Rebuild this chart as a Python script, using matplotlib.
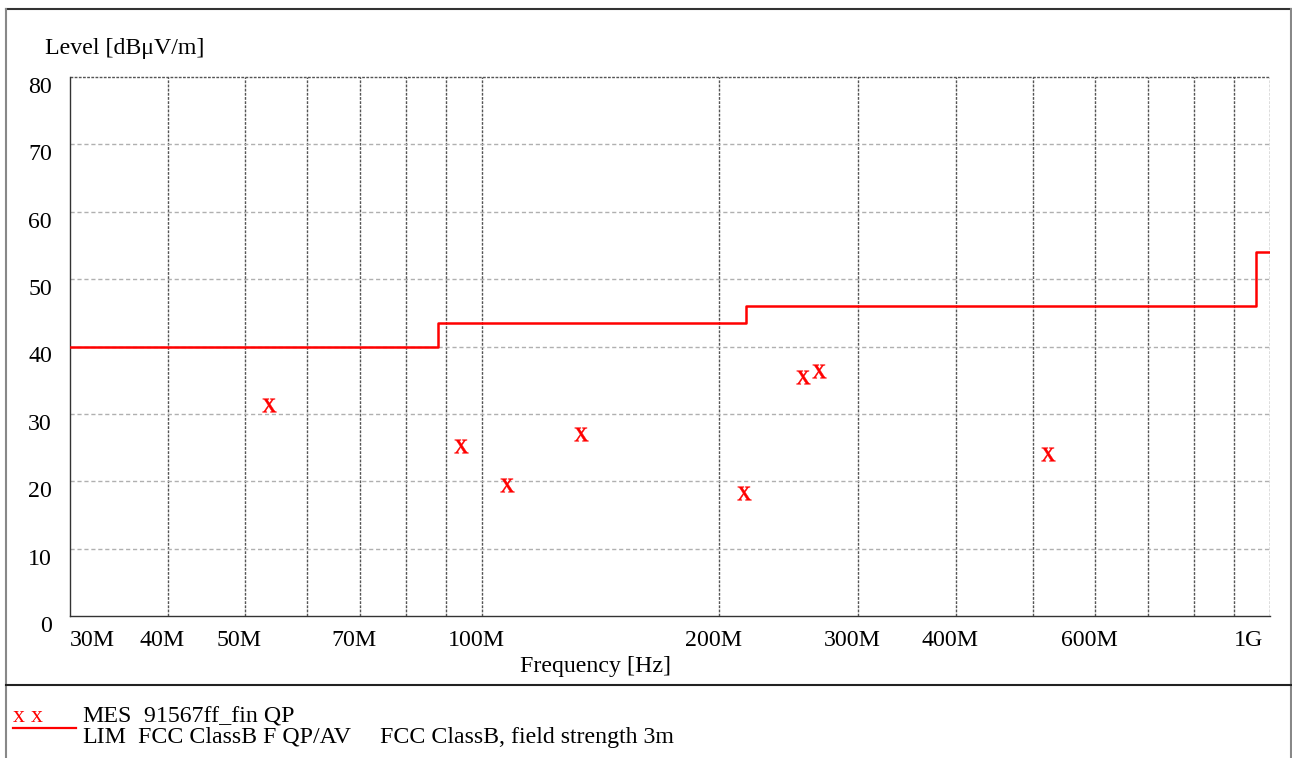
import numpy as np
import matplotlib.pyplot as plt
from matplotlib.lines import Line2D
from matplotlib.transforms import ScaledTranslation

plt.rcParams['font.family'] = ['Liberation Serif', 'DejaVu Serif']
plt.rcParams['mathtext.fontset'] = 'stix'

W, H = 1292, 758
fs = 17.2

# limite FCC clase B (escalones)
lim_freq = [30e6, 88e6, 216e6, 960e6, 1000e6]
lim_level = [40, 43.5, 46, 54, 54]

# medidas QP
mes_freq = [53.7e6, 94.1e6, 107.5e6, 133.6e6, 215.2e6, 255.3e6, 267.6e6, 523e6]
mes_level = [31.3, 25.3, 19.4, 27.0, 18.2, 35.5, 36.4, 24.1]

xtick_pos = [30e6, 40e6, 50e6, 70e6, 100e6, 200e6, 300e6, 400e6, 600e6, 1e9]
xtick_lab = ['30M', '40M', '50M', '70M', '100M', '200M', '300M', '400M', '600M', '1G']
grid_freq = [40e6, 50e6, 60e6, 70e6, 80e6, 90e6, 100e6, 200e6, 300e6,
             400e6, 500e6, 600e6, 700e6, 800e6, 900e6, 1e9]
ytick = [0, 10, 20, 30, 40, 50, 60, 70, 80]


def px(x, y):
    return x / W, 1 - y / H


fig = plt.figure(figsize=(W / 100, H / 100), dpi=100)
ax = fig.add_axes([70 / W, 1 - 616 / H, 1200 / W, 539 / H])
ax.set_xscale('log')
ax.set_xlim(30e6, 1e9)
ax.set_ylim(0, 80)

# rejilla
for f in grid_freq:
    ax.axvline(f, color='#555555', lw=1.0, ls=(0, (2, 1)), zorder=1)
for yv in ytick[1:-1]:
    ax.axhline(yv, color='#b0b0b0', lw=1.0, ls=(0, (3, 2)), zorder=1)
ax.axhline(ytick[-1], color='#555555', lw=1.0, ls=(0, (2, 1)), zorder=1, clip_on=False)

ax.plot(lim_freq, lim_level, drawstyle='steps-post', color='red', lw=1.8, zorder=3)
ax.plot(mes_freq, mes_level, ls='none', marker=r'$\mathrm{x}$', ms=10,
        color='red', mew=0.3, zorder=4)

ax.spines['top'].set_visible(False)
ax.spines['right'].set_visible(False)
ax.spines['left'].set_color('#333333')
ax.spines['bottom'].set_color('#333333')
for s in ax.spines.values():
    s.set_linewidth(1.0)

ax.set_xticks(xtick_pos, xtick_lab)
ax.set_xticks([], minor=True)
ax.set_yticks(ytick, [str(v) for v in ytick])
ax.tick_params(axis='x', length=0, pad=10, labelsize=fs)
ax.tick_params(axis='y', length=0, pad=13, labelsize=fs)
ax.tick_params(which='minor', length=0)

labs = ax.get_xticklabels()
for i, lab in enumerate(labs):
    if i == 0:
        lab.set_ha('left')
    elif i == len(labs) - 1:
        lab.set_ha('right')
        lab.set_transform(lab.get_transform() + ScaledTranslation(-7 / 100, 0, fig.dpi_scale_trans))
    else:
        lab.set_transform(lab.get_transform() + ScaledTranslation(-6 / 100, 0, fig.dpi_scale_trans))
for lab in ax.get_yticklabels():
    lab.set_va('top')

fig.text(*px(45, 54), 'Level [dBμV/m]', fontsize=fs, va='baseline')
fig.text(*px(595, 672), 'Frequency [Hz]', fontsize=fs, ha='center', va='baseline')

# leyenda
fig.text(*px(13, 722), 'x x', fontsize=fs, color='red', va='baseline')
fig.add_artist(Line2D([13 / W, 76 / W], [1 - 728 / H, 1 - 728 / H], color='red', lw=1.6))
fig.text(*px(82, 722), 'MES', fontsize=fs, va='baseline')
fig.text(*px(144, 722), '91567ff_fin QP', fontsize=fs, va='baseline')
fig.text(*px(82, 743), 'LIM', fontsize=fs, va='baseline')
fig.text(*px(138, 743), 'FCC ClassB F QP/AV', fontsize=fs, va='baseline')
fig.text(*px(380, 743), 'FCC ClassB, field strength 3m', fontsize=fs, va='baseline')

# marco
fig.add_artist(Line2D([6 / W, 1290.5 / W], [1 - 9 / H, 1 - 9 / H], color='#333333', lw=1.5))
fig.add_artist(Line2D([6 / W, 6 / W], [0, 1 - 9 / H], color='#888888', lw=1.5))
fig.add_artist(Line2D([1290.5 / W, 1290.5 / W], [0, 1 - 9 / H], color='#888888', lw=1.5))
fig.add_artist(Line2D([6 / W, 1290.5 / W], [1 - 685 / H, 1 - 685 / H], color='#222222', lw=1.5))

fig.savefig('out.png', dpi=100)
